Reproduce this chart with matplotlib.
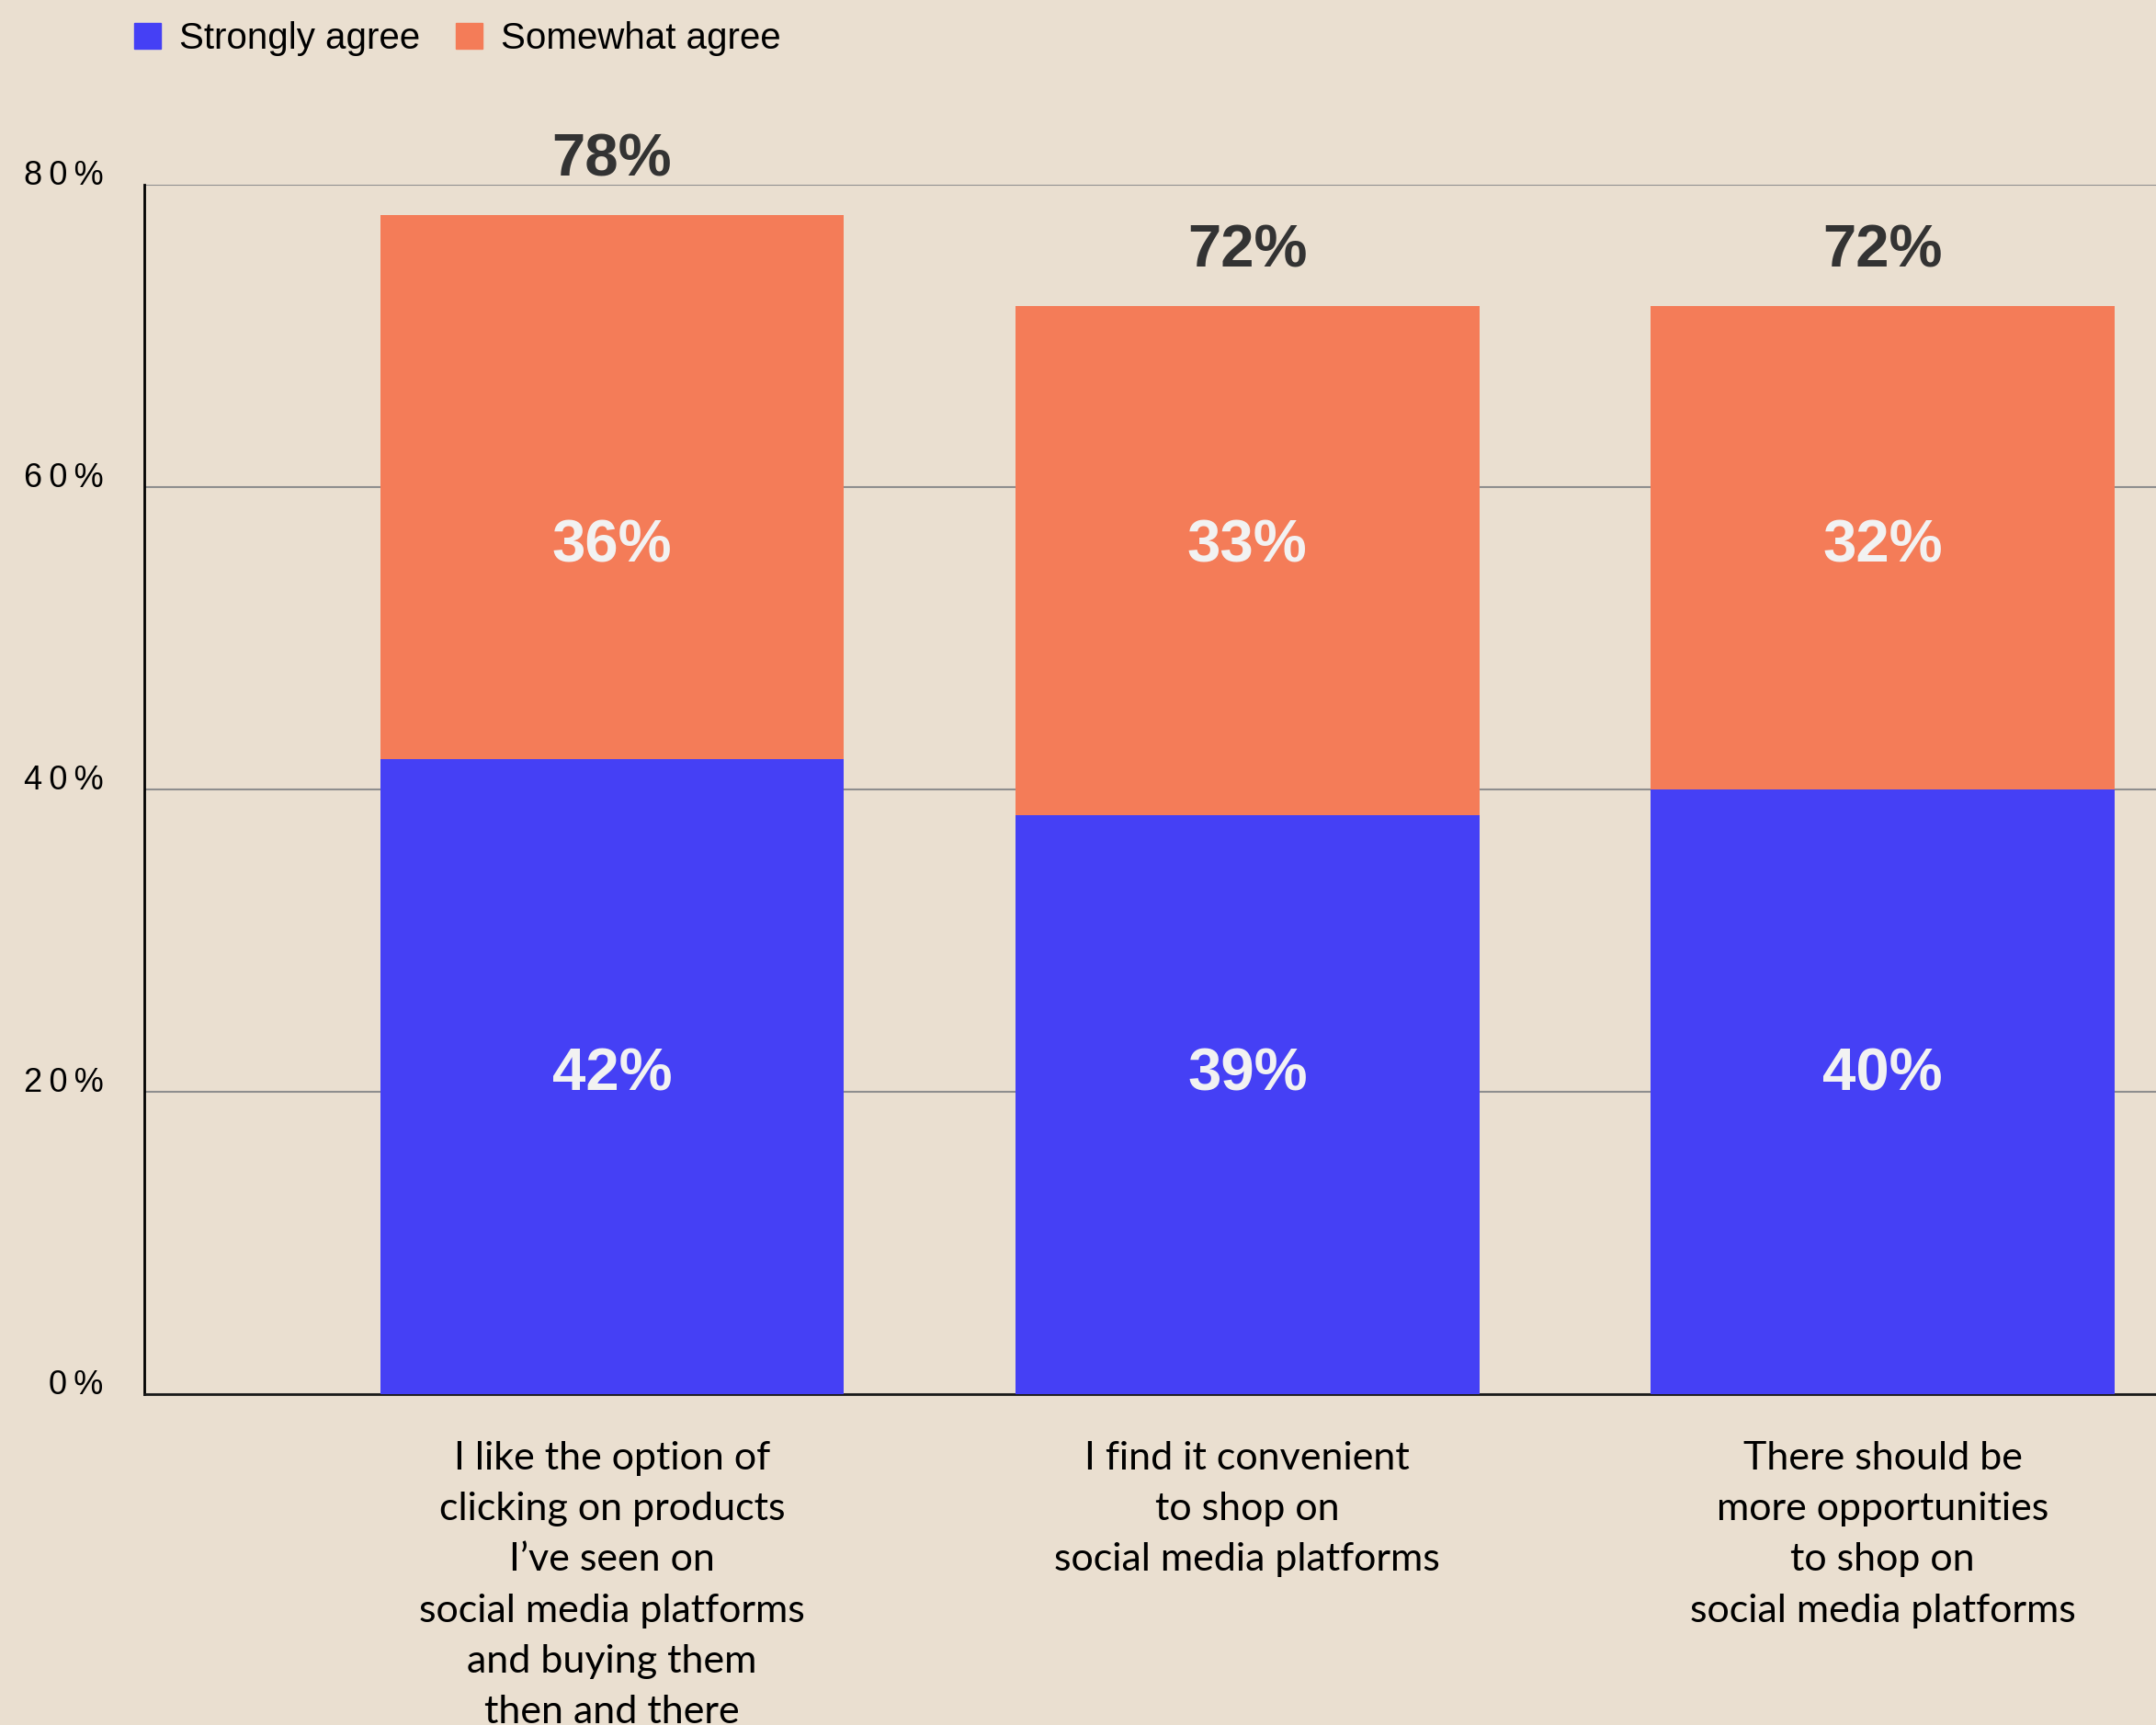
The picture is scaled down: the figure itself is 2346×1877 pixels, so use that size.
import matplotlib
matplotlib.use("Agg")
import matplotlib.pyplot as plt
from matplotlib.patches import Patch

# data
statements = [
    "I like the option of\nclicking on products\nI\u2019ve seen on\nsocial media platforms\nand buying them\nthen and there",
    "I find it convenient\nto shop on\nsocial media platforms",
    "There should be\nmore opportunities\nto shop on\nsocial media platforms",
]
strongly_agree = [42, 38.3, 40]
somewhat_agree = [36, 33.7, 32]
strongly_labels = ["42%", "39%", "40%"]
somewhat_labels = ["36%", "33%", "32%"]
total_labels = ["78%", "72%", "72%"]
yticks = [0, 20, 40, 60, 80]

BG = "#EADFD0"
BLUE = "#4540F5"
ORANGE = "#F47C58"

fig = plt.figure(figsize=(23.46, 18.77), dpi=100, facecolor=BG)
ax = fig.add_axes([157 / 2346, 1 - 1517 / 1877, 1 - 157 / 2346, (1517 - 201) / 1877])
ax.set_facecolor(BG)

x = list(range(len(statements)))
w = 0.73
ax.bar(x, strongly_agree, width=w, color=BLUE, zorder=3, label="Strongly agree")
ax.bar(x, somewhat_agree, width=w, bottom=strongly_agree, color=ORANGE, zorder=3,
       label="Somewhat agree")

lab = dict(ha="center", va="center", fontsize=47, fontweight="bold",
           family="Liberation Sans", zorder=4)
for i in x:
    top = strongly_agree[i] + somewhat_agree[i]
    ax.text(i, 21.1, strongly_labels[i], color="#F2F2F2", **lab)
    ax.text(i, 56.1, somewhat_labels[i], color="#F2F2F2", **lab)
    ax.text(i, top + 3.6, total_labels[i], color="#333333", clip_on=False, **lab)

ax.set_xlim(-0.736, 2.43)
ax.set_ylim(0, 80)
ax.set_yticks(yticks)
# letter-spaced tick labels like the original
ax.set_yticklabels(["\u2009".join(f"{v}%") for v in yticks], fontsize=26,
                   family="Liberation Sans")
for t in ax.get_yticklabels():
    t.set_va("baseline")
ax.tick_params(axis="y", length=0, pad=32)
ax.set_xticks(x)
ax.set_xticklabels(statements, fontsize=31, family="Lato", linespacing=1.55)
ax.tick_params(axis="x", length=0, pad=37)

ax.grid(axis="y", color="#8E8E8E", lw=1.5, zorder=1)
for side in ["top", "right"]:
    ax.spines[side].set_visible(False)
ax.spines["left"].set_linewidth(2)
ax.spines["bottom"].set_linewidth(2)
ax.spines["left"].set_color("black")
ax.spines["bottom"].set_color("#1A1A1A")

handles = [Patch(color=BLUE, label="Strongly agree"),
           Patch(color=ORANGE, label="Somewhat agree")]
fig.legend(handles=handles, loc="center left", bbox_to_anchor=(146 / 2346, 1 - 42 / 1877),
           ncol=2, frameon=False, borderpad=0, borderaxespad=0,
           handlelength=0.72, handleheight=0.72, handletextpad=0.5, columnspacing=0.95,
           prop={"family": "Liberation Sans", "size": 29})

fig.savefig("out.png", dpi=100, facecolor=BG)
